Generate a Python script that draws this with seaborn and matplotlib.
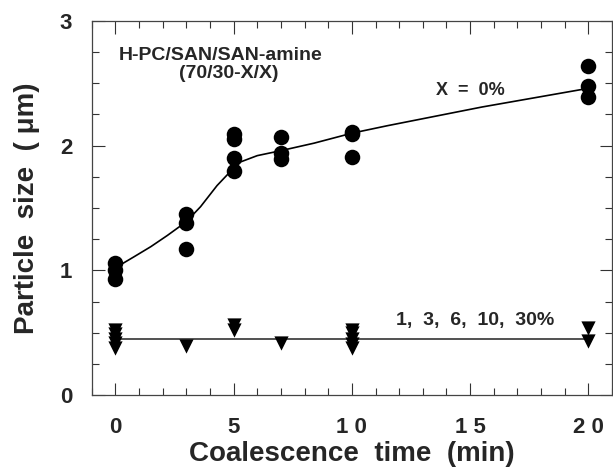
import matplotlib
matplotlib.use("Agg")
import matplotlib.pyplot as plt
from matplotlib.ticker import MultipleLocator, FixedLocator, FixedFormatter
import seaborn as sns
import pandas as pd

# Particle size of X = 0% blend at each coalescence time (min)
time_x0 = [0, 0, 0, 3, 3, 3, 5, 5, 5, 5, 7, 7, 7, 10, 10, 10, 20, 20, 20]
size_x0 = [1.06, 1.00, 0.93, 1.45, 1.38, 1.17, 2.09, 2.05, 1.90, 1.80,
           2.07, 1.94, 1.89, 2.11, 2.09, 1.91, 2.64, 2.48, 2.39]

# Particle size of the amine-containing blends (1, 3, 6, 10, 30%)
time_amine = [0, 0, 0, 0, 0, 3, 5, 5, 7, 10, 10, 10, 10, 10, 20, 20]
size_amine = [0.52, 0.49, 0.45, 0.42, 0.38, 0.39, 0.56, 0.52, 0.42,
              0.52, 0.50, 0.45, 0.41, 0.38, 0.54, 0.43]

# Hand-drawn trend curve through the X = 0% data
curve_t = [0, 0.8, 1.5, 2.2, 3.0, 3.6, 4.3, 4.9, 5.3, 6.0, 7.0, 8.4, 10.0, 11.5, 15.5, 20]
curve_y = [1.02, 1.11, 1.19, 1.28, 1.39, 1.51, 1.68, 1.80, 1.87, 1.92, 1.96, 2.02,
           2.10, 2.16, 2.31, 2.46]

# Flat trend for the amine blends
flat_t = [0, 20]
flat_y = [0.45, 0.45]

x_ticks = [0, 5, 10, 15, 20]
x_tick_labels = ["0", "5", "1 0", "1 5", "2 0"]
y_ticks = [0, 1, 2, 3]
y_tick_labels = ["0", "1", "2", "3"]

sns.set_style("ticks")
plt.rcParams["font.family"] = ["Liberation Sans", "DejaVu Sans"]
plt.rcParams["font.weight"] = "bold"

fig = plt.figure(figsize=(6.13, 4.75), dpi=100)
ax = fig.add_axes([0.1496, 0.1684, 0.8488, 0.7874])

df_x0 = pd.DataFrame({"t": time_x0, "size": size_x0})
df_am = pd.DataFrame({"t": time_amine, "size": size_amine})
df_curve = pd.DataFrame({"t": curve_t, "size": curve_y})
df_flat = pd.DataFrame({"t": flat_t, "size": flat_y})

sns.lineplot(data=df_curve, x="t", y="size", ax=ax, color="black", lw=1.2,
             sort=False, estimator=None)
sns.lineplot(data=df_flat, x="t", y="size", ax=ax, color="#333333", lw=1.2,
             sort=False, estimator=None)
sns.scatterplot(data=df_x0, x="t", y="size", ax=ax, marker="o", s=125,
                color="black", edgecolor="black", linewidth=0, zorder=3)
sns.scatterplot(data=df_am, x="t", y="size", ax=ax, marker="v", s=105,
                color="black", edgecolor="black", linewidth=0, zorder=3)

ax.set_xlim(-1, 21)
ax.set_ylim(0, 3)

ax.xaxis.set_major_locator(FixedLocator(x_ticks))
ax.xaxis.set_major_formatter(FixedFormatter(x_tick_labels))
ax.xaxis.set_minor_locator(MultipleLocator(1))
ax.yaxis.set_major_locator(FixedLocator(y_ticks))
ax.yaxis.set_major_formatter(FixedFormatter(y_tick_labels))
ax.yaxis.set_minor_locator(MultipleLocator(0.25))

ax.tick_params(which="both", direction="in", top=True, right=True,
               color="#333333", width=0.8)
ax.tick_params(which="major", length=9)
ax.tick_params(which="minor", length=5)
ax.tick_params(axis="x", which="major", labelsize=16, pad=16)
ax.tick_params(axis="y", which="major", labelsize=16, pad=14)
for lab in ax.get_xticklabels() + ax.get_yticklabels():
    lab.set_fontweight("bold")

for sp in ax.spines.values():
    sp.set_visible(True)
    sp.set_linewidth(0.9)
    sp.set_color("#444444")

ax.set_xlabel("Coalescence  time  (min)", fontsize=20, fontweight="bold", labelpad=2)
ax.set_ylabel("Particle  size  ( μm)", fontsize=20, fontweight="bold", labelpad=14)

ax.text(4.45, 2.72, "H-PC/SAN/SAN-amine", ha="center", va="center",
        fontsize=14, fontweight="bold")
ax.text(4.79, 2.58, "(70/30-X/X)", ha="center", va="center",
        fontsize=14, fontweight="bold")
ax.text(15.0, 2.44, "X  =  0%", ha="center", va="center",
        fontsize=13, fontweight="bold")
ax.text(15.2, 0.60, "1,  3,  6,  10,  30%", ha="center", va="center",
        fontsize=14, fontweight="bold")

fig.savefig("out.png", dpi=100)
